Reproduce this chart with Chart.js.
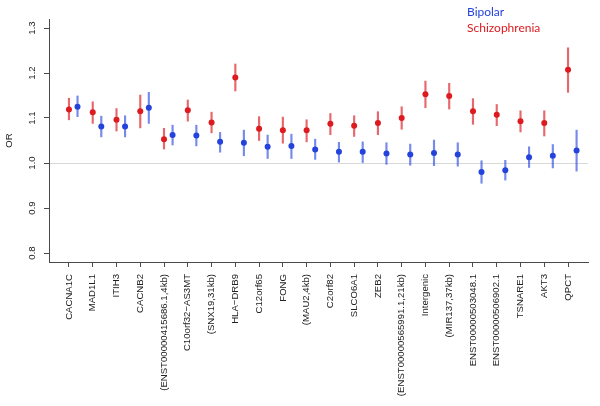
<meta charset="UTF-8" />
<style>
  body { margin: 0; background: #fff; }
  canvas { display: block; }
</style>
<canvas id="myChart" width="600" height="406"></canvas>
<script src="https://cdn.jsdelivr.net/npm/chart.js@4"></script>
<script>
// genes / loci along the x axis
const categories = [
  "CACNA1C", "MAD1L1", "ITIH3", "CACNB2", "(ENST00000415686.1,4kb)",
  "C10orf32\u2212AS3MT", "(SNX19,31kb)", "HLA\u2212DRB9", "C12orf65", "FONG",
  "(MAU2,4kb)", "C2orf82", "SLCO6A1", "ZEB2", "(ENST00000565991.1,21kb)",
  "Intergenic", "(MIR137,37kb)", "ENST00000503048.1", "ENST00000506902.1",
  "TSNARE1", "AKT3", "QPCT"
];

// schizophrenia OR with lower / upper interval
const sczOR = [1.119, 1.113, 1.096, 1.115, 1.053, 1.117, 1.090, 1.190, 1.076, 1.073, 1.073,
  1.087, 1.083, 1.089, 1.100, 1.153, 1.149, 1.115, 1.107, 1.093, 1.089, 1.207];
const sczLo = [1.096, 1.088, 1.071, 1.078, 1.031, 1.093, 1.067, 1.160, 1.050, 1.044, 1.047,
  1.063, 1.059, 1.063, 1.075, 1.123, 1.120, 1.086, 1.083, 1.069, 1.060, 1.157];
const sczHi = [1.144, 1.136, 1.121, 1.151, 1.077, 1.140, 1.113, 1.220, 1.103, 1.102, 1.096,
  1.110, 1.105, 1.114, 1.125, 1.182, 1.177, 1.143, 1.130, 1.116, 1.116, 1.256];

// bipolar OR with lower / upper interval
const bipOR = [1.125, 1.081, 1.081, 1.123, 1.062, 1.061, 1.047, 1.045, 1.036, 1.038, 1.030,
  1.025, 1.025, 1.021, 1.019, 1.022, 1.019, 0.980, 0.984, 1.013, 1.016, 1.028];
const bipLo = [1.103, 1.058, 1.058, 1.088, 1.040, 1.038, 1.024, 1.016, 1.010, 1.010, 1.008,
  1.002, 1.001, 0.997, 0.995, 0.994, 0.993, 0.955, 0.962, 0.990, 0.989, 0.982];
const bipHi = [1.149, 1.104, 1.105, 1.157, 1.084, 1.084, 1.068, 1.073, 1.062, 1.064, 1.053,
  1.046, 1.047, 1.045, 1.042, 1.051, 1.045, 1.005, 1.006, 1.036, 1.041, 1.073];

const yTicks = [0.8, 0.9, 1.0, 1.1, 1.2, 1.3];

const red = "#dc1a1f";
const blue = "#2442dc";
const bipShift = 0.36; // bipolar drawn just right of each tick
const xPad = 0.84;     // R's 4% range extension
const yMin = 0.78, yMax = 1.32;
const fontFam = "'Liberation Sans', Arial, sans-serif";
const last = categories.length - 1;

// rotated y labels + legend text
const rText = {
  id: "rText",
  afterDraw: function(chart) {
    const ctx = chart.ctx, ys = chart.scales.y;
    ctx.save();
    ctx.fillStyle = "#222";
    ctx.font = "9.6px " + fontFam;
    ctx.textAlign = "center";
    ctx.textBaseline = "middle";
    yTicks.forEach(function(v) {
      ctx.save();
      ctx.translate(32, ys.getPixelForValue(v));
      ctx.rotate(-Math.PI / 2);
      ctx.fillText(v.toFixed(1), 0, 0);
      ctx.restore();
    });
    ctx.font = "12px Lato, " + fontFam;
    ctx.textAlign = "left";
    ctx.fillStyle = blue;
    ctx.fillText("Bipolar", 467, 12);
    ctx.fillStyle = red;
    ctx.fillText("Schizophrenia", 467, 28);
    ctx.restore();
  }
};

const data = {
  datasets: [
    {
      type: "bar",
      data: categories.map(function(c, i) { return { x: i, y: [sczLo[i], sczHi[i]] }; }),
      backgroundColor: "rgba(220,40,45,0.7)",
      barThickness: 1.5,
      grouped: false,
      order: 3
    },
    {
      type: "bar",
      data: categories.map(function(c, i) { return { x: i + bipShift, y: [bipLo[i], bipHi[i]] }; }),
      backgroundColor: "rgba(45,75,225,0.65)",
      barThickness: 1.5,
      grouped: false,
      order: 4
    },
    {
      type: "scatter",
      data: categories.map(function(c, i) { return { x: i, y: sczOR[i] }; }),
      backgroundColor: red,
      pointRadius: 3,
      pointBorderWidth: 0,
      order: 1
    },
    {
      type: "scatter",
      data: categories.map(function(c, i) { return { x: i + bipShift, y: bipOR[i] }; }),
      backgroundColor: blue,
      pointRadius: 3,
      pointBorderWidth: 0,
      order: 2
    }
  ]
};

const config = {
  type: "scatter",
  data: data,
  plugins: [rText],
  options: {
    responsive: false,
    animation: false,
    layout: { padding: { top: 19, right: 12, left: 0, bottom: 0 } },
    plugins: {
      legend: { display: false },
      tooltip: { enabled: false },
      title: { display: false }
    },
    scales: {
      x: {
        type: "linear",
        min: -xPad,
        max: last + xPad,
        offset: false,
        border: { display: true, color: "#4a4a4a", width: 1 },
        grid: { display: true, drawOnChartArea: false, drawTicks: true, tickLength: 5, tickColor: "#4a4a4a", offset: false },
        afterBuildTicks: function(s) { s.ticks = categories.map(function(c, i) { return { value: i }; }); },
        afterFit: function(s) { s.height = 144; },
        ticks: {
          autoSkip: false,
          minRotation: 90,
          maxRotation: 90,
          padding: 7,
          color: "#222",
          font: { family: fontFam, size: 9.6 },
          callback: function(v) { return categories[v]; }
        }
      },
      y: {
        min: yMin,
        max: yMax,
        beginAtZero: false,
        border: { display: true, color: "#4a4a4a", width: 1 },
        grid: {
          drawOnChartArea: true,
          drawTicks: true,
          tickLength: 5,
          tickColor: "#4a4a4a",
          color: function(c) { return c.tick && Math.abs(c.tick.value - 1) < 1e-6 ? "#d8d8d8" : "rgba(0,0,0,0)"; }
        },
        afterBuildTicks: function(s) { s.ticks = yTicks.map(function(v) { return { value: v }; }); },
        afterFit: function(s) { s.width = 49; },
        ticks: { display: false },
        title: {
          display: true,
          text: "OR",
          color: "#222",
          padding: { top: 4, bottom: 0 },
          font: { family: fontFam, size: 9.6 }
        }
      }
    }
  }
};

var myChart = new Chart(document.getElementById("myChart"), config);
</script>
